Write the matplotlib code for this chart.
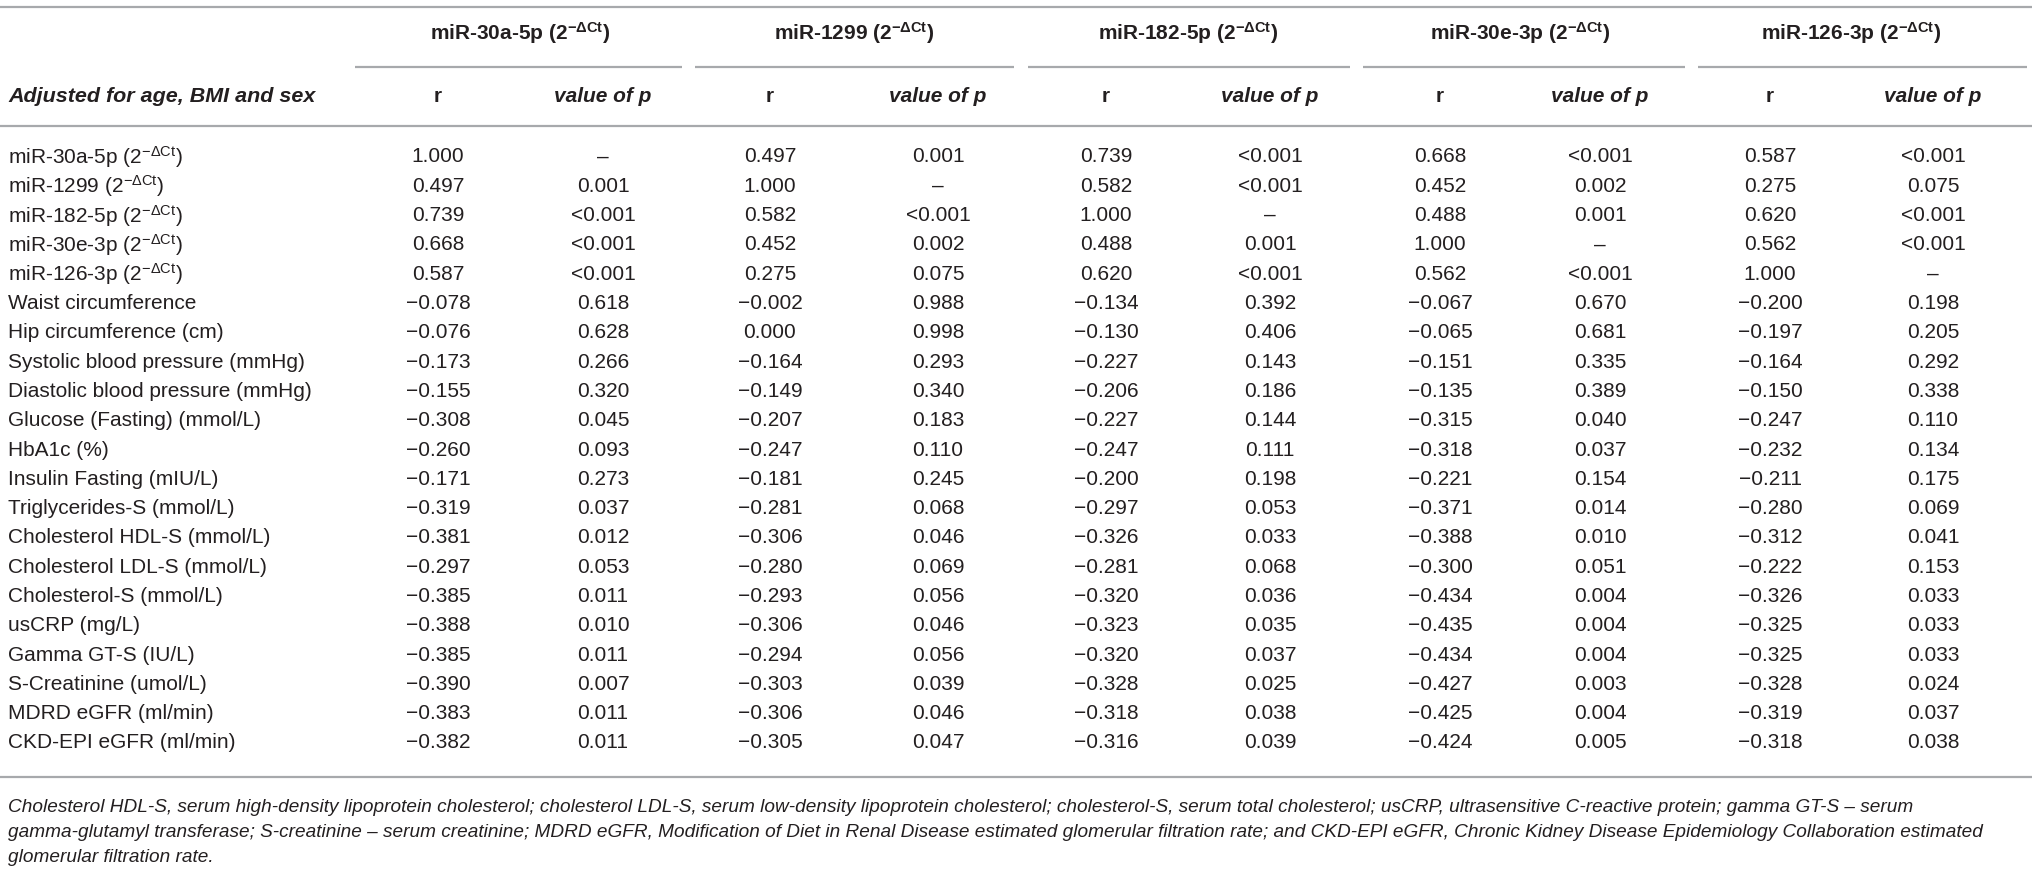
import matplotlib
matplotlib.use("Agg")
import matplotlib.pyplot as plt

plt.rcParams['font.family'] = ['Liberation Sans', 'DejaVu Sans']
plt.rcParams['mathtext.fontset'] = 'custom'
plt.rcParams['mathtext.rm'] = 'Liberation Sans'
plt.rcParams['mathtext.bf'] = 'Liberation Sans:bold'
plt.rcParams['mathtext.it'] = 'Liberation Sans:italic'

# Table content
groups = ["miR-30a-5p", "miR-1299", "miR-182-5p", "miR-30e-3p", "miR-126-3p"]
row_labels = [
    "miR-30a-5p", "miR-1299", "miR-182-5p", "miR-30e-3p", "miR-126-3p",
    "Waist circumference", "Hip circumference (cm)",
    "Systolic blood pressure (mmHg)", "Diastolic blood pressure (mmHg)",
    "Glucose (Fasting) (mmol/L)", "HbA1c (%)", "Insulin Fasting (mIU/L)",
    "Triglycerides-S (mmol/L)", "Cholesterol HDL-S (mmol/L)",
    "Cholesterol LDL-S (mmol/L)", "Cholesterol-S (mmol/L)", "usCRP (mg/L)",
    "Gamma GT-S (IU/L)", "S-Creatinine (umol/L)", "MDRD eGFR (ml/min)",
    "CKD-EPI eGFR (ml/min)",
]
n_mirna = 5  # first rows carry the 2^-dCt unit

r_30a = [1.000, 0.497, 0.739, 0.668, 0.587, -0.078, -0.076, -0.173, -0.155, -0.308, -0.260,
         -0.171, -0.319, -0.381, -0.297, -0.385, -0.388, -0.385, -0.390, -0.383, -0.382]
p_30a = ["–", "0.001", "<0.001", "<0.001", "<0.001", "0.618", "0.628", "0.266", "0.320", "0.045", "0.093",
         "0.273", "0.037", "0.012", "0.053", "0.011", "0.010", "0.011", "0.007", "0.011", "0.011"]

r_1299 = [0.497, 1.000, 0.582, 0.452, 0.275, -0.002, 0.000, -0.164, -0.149, -0.207, -0.247,
          -0.181, -0.281, -0.306, -0.280, -0.293, -0.306, -0.294, -0.303, -0.306, -0.305]
p_1299 = ["0.001", "–", "<0.001", "0.002", "0.075", "0.988", "0.998", "0.293", "0.340", "0.183", "0.110",
          "0.245", "0.068", "0.046", "0.069", "0.056", "0.046", "0.056", "0.039", "0.046", "0.047"]

r_182 = [0.739, 0.582, 1.000, 0.488, 0.620, -0.134, -0.130, -0.227, -0.206, -0.227, -0.247,
         -0.200, -0.297, -0.326, -0.281, -0.320, -0.323, -0.320, -0.328, -0.318, -0.316]
p_182 = ["<0.001", "<0.001", "–", "0.001", "<0.001", "0.392", "0.406", "0.143", "0.186", "0.144", "0.111",
         "0.198", "0.053", "0.033", "0.068", "0.036", "0.035", "0.037", "0.025", "0.038", "0.039"]

r_30e = [0.668, 0.452, 0.488, 1.000, 0.562, -0.067, -0.065, -0.151, -0.135, -0.315, -0.318,
         -0.221, -0.371, -0.388, -0.300, -0.434, -0.435, -0.434, -0.427, -0.425, -0.424]
p_30e = ["<0.001", "0.002", "0.001", "–", "<0.001", "0.670", "0.681", "0.335", "0.389", "0.040", "0.037",
         "0.154", "0.014", "0.010", "0.051", "0.004", "0.004", "0.004", "0.003", "0.004", "0.005"]

r_126 = [0.587, 0.275, 0.620, 0.562, 1.000, -0.200, -0.197, -0.164, -0.150, -0.247, -0.232,
         -0.211, -0.280, -0.312, -0.222, -0.326, -0.325, -0.325, -0.328, -0.319, -0.318]
p_126 = ["<0.001", "0.075", "<0.001", "<0.001", "–", "0.198", "0.205", "0.292", "0.338", "0.110", "0.134",
         "0.175", "0.069", "0.041", "0.153", "0.033", "0.033", "0.033", "0.024", "0.037", "0.038"]

r_cols = [r_30a, r_1299, r_182, r_30e, r_126]
p_cols = [p_30a, p_1299, p_182, p_30e, p_126]

footnote = [
    "Cholesterol HDL-S, serum high-density lipoprotein cholesterol; cholesterol LDL-S, serum low-density lipoprotein "
    "cholesterol; cholesterol-S, serum total cholesterol; usCRP, ultrasensitive C-reactive protein; gamma GT-S – serum",
    "gamma-glutamyl transferase; S-creatinine – serum creatinine; MDRD eGFR, Modification of Diet in Renal Disease "
    "estimated glomerular filtration rate; and CKD-EPI eGFR, Chronic Kidney Disease Epidemiology Collaboration estimated",
    "glomerular filtration rate.",
]

# Layout (pixels)
W, H = 2032, 873
r_x = [438, 770, 1106, 1440, 1770]
p_x = [603, 938, 1270, 1600, 1933]
ul_start = [355, 695, 1028, 1363, 1698]
ul_end = [682, 1014, 1350, 1685, 2027]
row_y0, row_dy = 157, 29.3
fs = 15.0
txt = '#231f20'
line_c = '#a7a9ac'

fig = plt.figure(figsize=(W / 100, H / 100), dpi=100)
ax = fig.add_axes([0, 0, 1, 1])
ax.set_xlim(0, W)
ax.set_ylim(H, 0)
ax.axis('off')

sup_bf = r"($\mathbf{2}^{\mathbf{−ΔCt}}$)"
sup_rm = r"($\mathrm{2}^{\mathrm{−ΔCt}}$)"

# rules
ax.hlines(7, 0, W, color=line_c, lw=1.6)
ax.hlines(126, 0, W, color=line_c, lw=1.6)
ax.hlines(777, 0, W, color=line_c, lw=1.6)
for a, b in zip(ul_start, ul_end):
    ax.hlines(67, a, b, color=line_c, lw=1.6)

# headers
for g, rx, px in zip(groups, r_x, p_x):
    ax.text((rx + px) / 2, 33, g + " " + sup_bf, ha='center', va='center',
            fontsize=fs, fontweight='bold', color=txt)
    ax.text(rx, 97, "r", ha='center', va='center', fontsize=fs, fontweight='bold', color=txt)
    ax.text(px, 97, "value of p", ha='center', va='center', fontsize=fs,
            fontweight='bold', style='italic', color=txt)
ax.text(8, 97, "Adjusted for age, BMI and sex", ha='left', va='center', fontsize=fs * 1.03,
        fontweight='bold', style='italic', color=txt)

# body
for i, lab in enumerate(row_labels):
    y = row_y0 + i * row_dy
    s = lab + " " + sup_rm if i < n_mirna else lab
    ax.text(8, y, s, ha='left', va='center', fontsize=fs, color=txt)
    for rc, pc, rx, px in zip(r_cols, p_cols, r_x, p_x):
        ax.text(rx, y, f"{rc[i]:.3f}".replace("-", "−"), ha='center', va='center',
                fontsize=fs, color=txt)
        ax.text(px, y, pc[i], ha='center', va='center', fontsize=fs, color=txt)

for k, line in enumerate(footnote):
    ax.text(8, 807 + k * 25.5, line, ha='left', va='center', fontsize=13.7,
            style='italic', color=txt)

fig.savefig("out.png", dpi=100)
